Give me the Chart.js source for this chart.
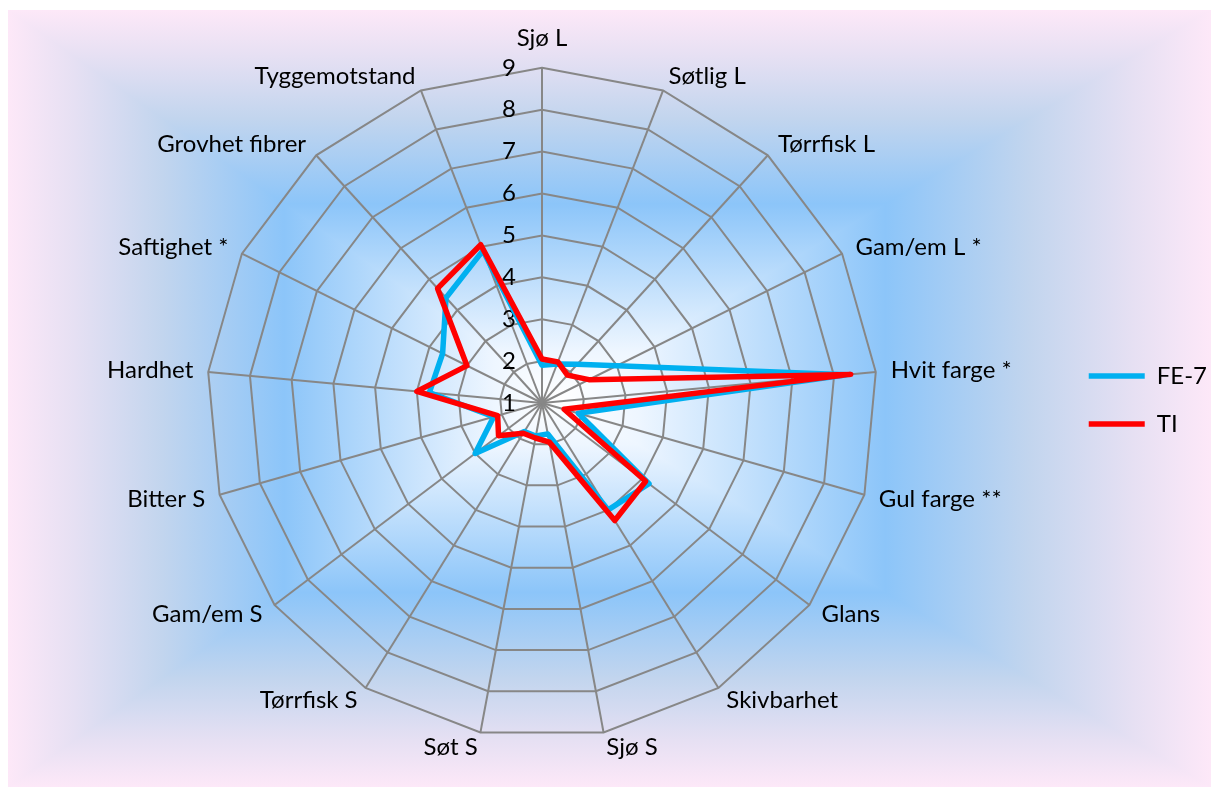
<!DOCTYPE html>
<html lang="no">
  <head>
    <meta charset="UTF-8" />
    <title>Radar</title>
    <script src="https://cdn.jsdelivr.net/npm/chart.js"></script>
    <style>
      html, body { margin: 0; padding: 0; background: #fff; }
    </style>
  </head>
  <body>
    <canvas id="myChart" width="1211" height="787"></canvas>
    <script>
      const attributes = [
        "Sjø L", "Søtlig L", "Tørrfisk L", "Gam/em L *", "Hvit farge *",
        "Gul farge **", "Glans", "Skivbarhet", "Sjø S", "Søt S", "Tørrfisk S",
        "Gam/em S", "Bitter S", "Hardhet", "Saftighet *", "Grovhet fibrer",
        "Tyggemotstand"
      ];
      const fe7 = [1.9, 2.0, 2.25, 3.0, 8.3, 1.9, 4.2, 4.0, 1.75, 1.8, 1.8, 3.0, 2.2, 3.7, 3.65, 4.4, 4.9];
      const ti = [2.05, 2.05, 1.9, 2.25, 8.4, 1.55, 4.1, 4.3, 1.95, 1.85, 1.85, 2.3, 2.1, 4.0, 3.0, 4.7, 5.05];
      const scaleTicks = [1, 2, 3, 4, 5, 6, 7, 8, 9];

      // rectangular "from centre" gradient like the office chart fill
      const bgPlugin = {
        id: "bg",
        beforeDraw(chart) {
          const ctx = chart.ctx;
          const L = 8, T = 10, R = 1211, B = 787, cx = 560, cy = 398;
          ctx.save();
          ctx.fillStyle = "#fff";
          ctx.fillRect(0, 0, chart.width, chart.height);
          const sides = [
            [[L, T], [R, T], [cx, T]],
            [[R, T], [R, B], [R, cy]],
            [[R, B], [L, B], [cx, B]],
            [[L, B], [L, T], [L, cy]],
          ];
          ctx.beginPath();
          ctx.rect(L, T, R - L, B - T);
          ctx.clip();
          sides.forEach(([a, b, f]) => {
            const g = ctx.createLinearGradient(cx, cy, f[0], f[1]);
            g.addColorStop(0, "#ffffff");
            g.addColorStop(0.12, "#eef6ff");
            g.addColorStop(0.5, "#8cc5f9");
            g.addColorStop(0.72, "#c2d5ee");
            g.addColorStop(0.88, "#e6e0f3");
            g.addColorStop(1, "#fde8f8");
            ctx.fillStyle = g;
            ctx.strokeStyle = g;
            ctx.lineWidth = 1.5;
            ctx.beginPath();
            ctx.moveTo(cx, cy);
            ctx.lineTo(a[0], a[1]);
            ctx.lineTo(b[0], b[1]);
            ctx.closePath();
            ctx.fill();
            ctx.stroke();
          });
          ctx.restore();
        },
      };

      const tickPlugin = {
        id: "tickLabels",
        beforeDatasetsDraw(chart) {
          const r = chart.scales.r;
          const ctx = chart.ctx;
          ctx.save();
          ctx.font = "24px Lato";
          ctx.fillStyle = "#000";
          ctx.textAlign = "right";
          ctx.textBaseline = "middle";
          scaleTicks.forEach((v) => {
            const d = r.getDistanceFromCenterForValue(v);
            ctx.fillText(String(v), r.xCenter - 26, r.yCenter - d);
          });
          ctx.restore();
        },
      };

      // side labels sit centred on their spoke, not above/below it
      const centreLabels = (scale) => {
        const items = scale._pointLabelItems;
        if (!items) return;
        items.forEach((item, i) => {
          const deg = Math.round((i * 360) / attributes.length);
          if (deg === 0 || deg === 180) return;
          const h = item.bottom - item.top;
          const dy = deg < 90 || deg > 270 ? h / 2 : -h / 2;
          item.y += dy;
          item.top += dy;
          item.bottom += dy;
        });
      };

      const ctx = document.getElementById("myChart");
      const myChart = new Chart(ctx, {
        type: "radar",
        data: {
          labels: attributes,
          datasets: [
            {
              label: "FE-7",
              data: fe7,
              borderColor: "#00b0f0",
              backgroundColor: "#00b0f0",
              borderWidth: 5.5,
              borderCapStyle: "round",
              borderJoinStyle: "round",
              fill: false,
              pointRadius: 0,
              order: 1,
            },
            {
              label: "TI",
              data: ti,
              borderColor: "#ff0000",
              backgroundColor: "#ff0000",
              borderWidth: 5.5,
              borderCapStyle: "round",
              borderJoinStyle: "round",
              fill: false,
              pointRadius: 0,
              order: 0,
            },
          ],
        },
        options: {
          responsive: false,
          animation: false,
          devicePixelRatio: 1,
          layout: { padding: { top: 21, bottom: 8, left: 21, right: -6 } },
          plugins: {
            tooltip: { enabled: false },
            legend: {
              position: "right",
              labels: {
                usePointStyle: true,
                pointStyle: "line",
                pointStyleWidth: 56,
                padding: 24,
                color: "#000",
                font: { family: "Lato", size: 24 },
                sort: (a, b) => a.datasetIndex - b.datasetIndex,
              },
            },
          },
          scales: {
            r: {
              min: 1,
              max: 9,
              afterFit: centreLabels,
              ticks: { display: false, stepSize: 1 },
              grid: { color: "#878787", lineWidth: 2 },
              angleLines: { color: "#878787", lineWidth: 2 },
              pointLabels: {
                color: "#000",
                padding: 15,
                font: { family: "Lato", size: 24 },
              },
            },
          },
        },
        plugins: [bgPlugin, tickPlugin],
      });
    </script>
  </body>
</html>
